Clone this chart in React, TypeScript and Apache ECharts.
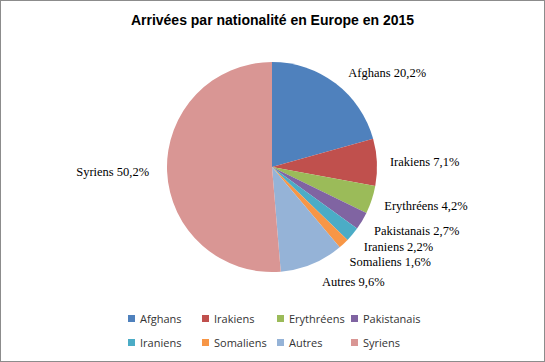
import React, { useEffect, useRef } from "react";
import * as echarts from "echarts";

const categories = ["Afghans", "Irakiens", "Erythréens", "Pakistanais", "Iraniens", "Somaliens", "Autres", "Syriens"];
const shares = [20.2, 7.1, 4.2, 2.7, 2.2, 1.6, 9.6, 50.2];
const colors = ["#4F81BD", "#C0504D", "#9BBB59", "#8064A2", "#4BACC6", "#F79646", "#95B3D7", "#D99694"];
const title = "Arrivées par nationalité en Europe en 2015";

const legendLefts = [123, 197, 272, 346];
const legendTops = [308, 332];
const pieCenter = [272, 167];

export default function App() {
  const ref = useRef<HTMLDivElement>(null);
  useEffect(() => {
    if (!ref.current) return;
    const chart = echarts.init(ref.current, null, { renderer: "svg" });
    const legendText = {
      fontFamily: "Open Sans, Liberation Sans, sans-serif",
      fontSize: 11,
      color: "#333",
    };
    const legends = categories.map((c, i) => ({
      data: [c],
      left: legendLefts[i % 4],
      top: legendTops[Math.floor(i / 4)],
      itemWidth: 7,
      itemHeight: 7,
      icon: "rect",
      textStyle: legendText,
      selectedMode: false,
    }));
    chart.setOption({
      animation: false,
      color: colors,
      title: {
        text: title,
        left: "center",
        top: 8,
        textStyle: { fontFamily: "Liberation Sans, sans-serif", fontWeight: "bold", fontSize: 14, color: "#000" },
      },
      legend: legends,
      series: [
        {
          type: "pie",
          center: pieCenter,
          radius: 105,
          startAngle: 90,
          clockwise: true,
          data: categories.map((c, i) => ({ name: c, value: shares[i] })),
          label: {
            show: true,
            position: "outside",
            fontFamily: "Liberation Serif, serif",
            fontSize: 12.5,
            color: "#000",
            formatter: (p: any) => `${p.name} ${String(p.value).replace(".", ",")}%`,
          },
          labelLayout: (p: any) => {
            const cy = p.labelRect.y + p.labelRect.height / 2;
            return { dy: Math.max(0, cy - pieCenter[1]) * 0.05 };
          },
          labelLine: { show: false, length: 13, length2: 0 },
          itemStyle: { borderWidth: 0 },
          emphasis: { disabled: true },
        },
      ],
    });
    return () => chart.dispose();
  }, []);
  return (
    <div
      style={{
        position: "fixed",
        left: 0,
        top: 0,
        width: 545,
        height: 362,
        boxSizing: "border-box",
        border: "1px solid #8c8c8c",
        background: "#fff",
      }}
    >
      <div ref={ref} style={{ position: "absolute", left: -1, top: -1, width: 545, height: 362 }} />
    </div>
  );
}
